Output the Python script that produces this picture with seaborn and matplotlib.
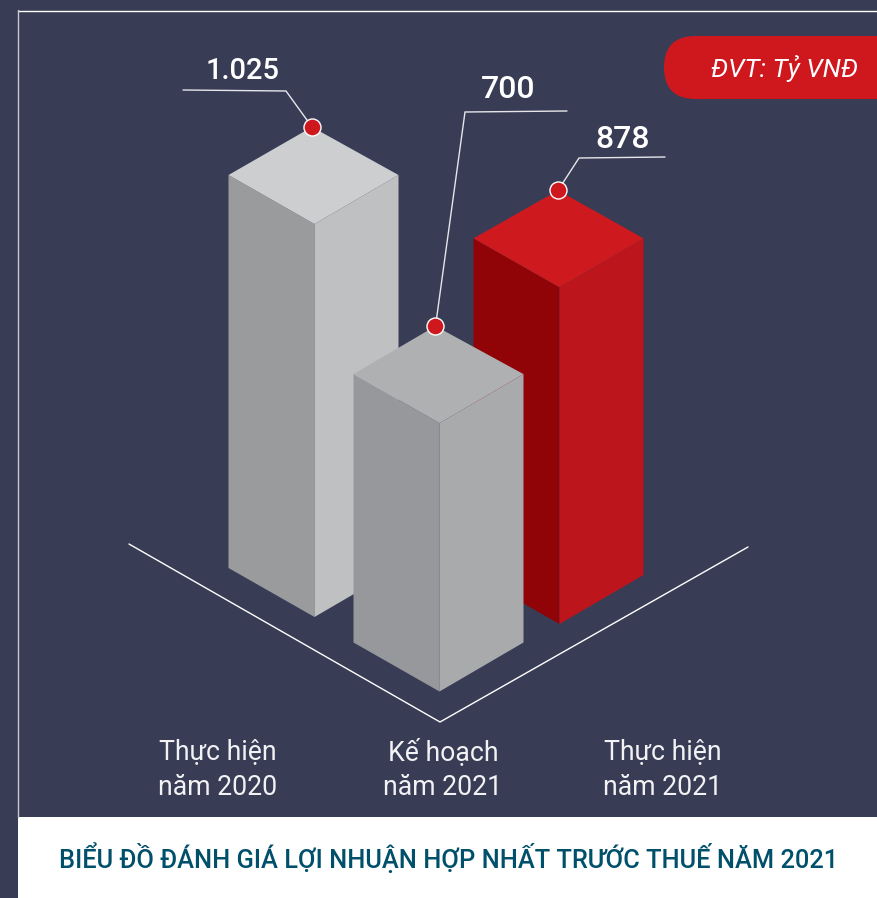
import matplotlib
matplotlib.use("Agg")
import matplotlib.pyplot as plt
from matplotlib.patches import FancyBboxPatch, Rectangle
import seaborn as sns
import pandas as pd

# ---- data ----
categories = ["Thực hiện\nnăm 2020", "Kế hoạch\nnăm 2021", "Thực hiện\nnăm 2021"]
values = [1025, 700, 878]
value_labels = ["1.025", "700", "878"]
unit = "ĐVT: Tỷ VNĐ"
title = "BIỂU ĐỒ ĐÁNH GIÁ LỢI NHUẬN HỢP NHẤT TRƯỚC THUẾ NĂM 2021"

# ---- layout (pixel space of the picture) ----
W, H = 878, 898
PX_PER_UNIT = 0.3834
front_x = [314.5, 439.5, 559.5]
base_y = [617, 691.5, 624]
back_dx = [2.5, 4, 1.5]
DL, DR, DY, BACK_DY = 86, 84, 49, 97
face_colors = [
    ("#CDCED0", "#9A9B9D", "#BFC0C2"),
    ("#AFB0B2", "#97989C", "#A9AAAC"),
    ("#CE1A1F", "#900306", "#BC161C"),
]
draw_order = [0, 2, 1]
label_pos = [(243, 71), (508, 90), (623, 139)]
label_size = [21, 23, 23]
knees = [[(183, 90), (286, 91)], [(567, 111), (465, 112)], [(665, 157), (579, 158)]]
cat_pos = [(218, 769.5), (443, 769.5), (663, 769.5)]
BG, RED, TEAL = "#383C55", "#CE181E", "#00506B"

sns.set_theme(style="white", rc={"axes.facecolor": BG, "figure.facecolor": BG})
plt.rcParams["font.family"] = ["Roboto", "Noto Sans", "DejaVu Sans"]

fig = plt.figure(figsize=(W / 100, H / 100), dpi=100, facecolor=BG)
ax = fig.add_axes([0, 0, 1, 1])
ax.set_xlim(0, W)
ax.set_ylim(H, 0)
ax.axis("off")

# frame and white caption band
ax.add_patch(Rectangle((18, 817), W - 18, H - 817, fc="white", ec="none", zorder=1))
ax.plot([18, W], [10.5, 10.5], color="white", lw=1.0, zorder=1)
ax.plot([18, 18], [10, 817], color="#C8C9CE", lw=1.0, zorder=1)

# ground lines
ax.plot([129, 440, 748], [544, 722, 547], color="white", lw=1.0, zorder=2)

# isometric bars; height of each comes from its value
for i in draw_order:
    fx, by = front_x[i], base_y[i]
    ty = by - values[i] * PX_PER_UNIT
    top_c, left_c, right_c = face_colors[i]
    z = 3 + draw_order.index(i)
    ax.fill([fx - DL, fx, fx, fx - DL], [ty - DY, ty, by, by - DY], color=left_c, lw=0, zorder=z)
    ax.fill([fx, fx + DR, fx + DR, fx], [ty, ty - DY, by - DY, by], color=right_c, lw=0, zorder=z)
    ax.fill([fx - DL, fx - back_dx[i], fx + DR, fx], [ty - DY, ty - BACK_DY, ty - DY, ty],
            color=top_c, lw=0, zorder=z)

dots = pd.DataFrame({
    "x": [fx - d for fx, d in zip(front_x, back_dx)],
    "y": [b - v * PX_PER_UNIT - BACK_DY for b, v in zip(base_y, values)],
})

# leader lines, red dots, value labels
for i in range(3):
    (x0, y0), (x1, y1) = knees[i]
    ax.plot([x0, x1, dots.x[i]], [y0, y1, dots.y[i]], color="#E6E6EA", lw=1.0, zorder=8,
            solid_joinstyle="miter")
    ax.text(*label_pos[i], value_labels[i], color="white", fontsize=label_size[i],
            fontweight="medium", ha="center", va="center", zorder=10)
sns.scatterplot(data=dots, x="x", y="y", ax=ax, s=150, color=RED, edgecolor="white",
                linewidth=1.0, zorder=9, legend=False)
ax.set_xlim(0, W)
ax.set_ylim(H, 0)
ax.axis("off")

# unit pill
ax.add_patch(FancyBboxPatch((695.5, 67.5), 300, 0, boxstyle="round,pad=31.5,rounding_size=31.5",
                            fc=RED, ec="none", zorder=6, clip_on=True))
ax.text(785, 69, unit, color="white", fontsize=19, style="italic", fontweight="normal",
        ha="center", va="center", zorder=7)

# category labels
for (x, y), c in zip(cat_pos, categories):
    ax.text(x, y, c, color="#F2F2F5", fontsize=19.2, fontweight="normal", ha="center", va="center",
            linespacing=1.4, zorder=7)

# caption
ax.text(449, 858, title, color=TEAL, fontsize=18.25, fontweight="medium", ha="center", va="center",
        zorder=7)

fig.savefig("out.png", dpi=100, facecolor=BG)
